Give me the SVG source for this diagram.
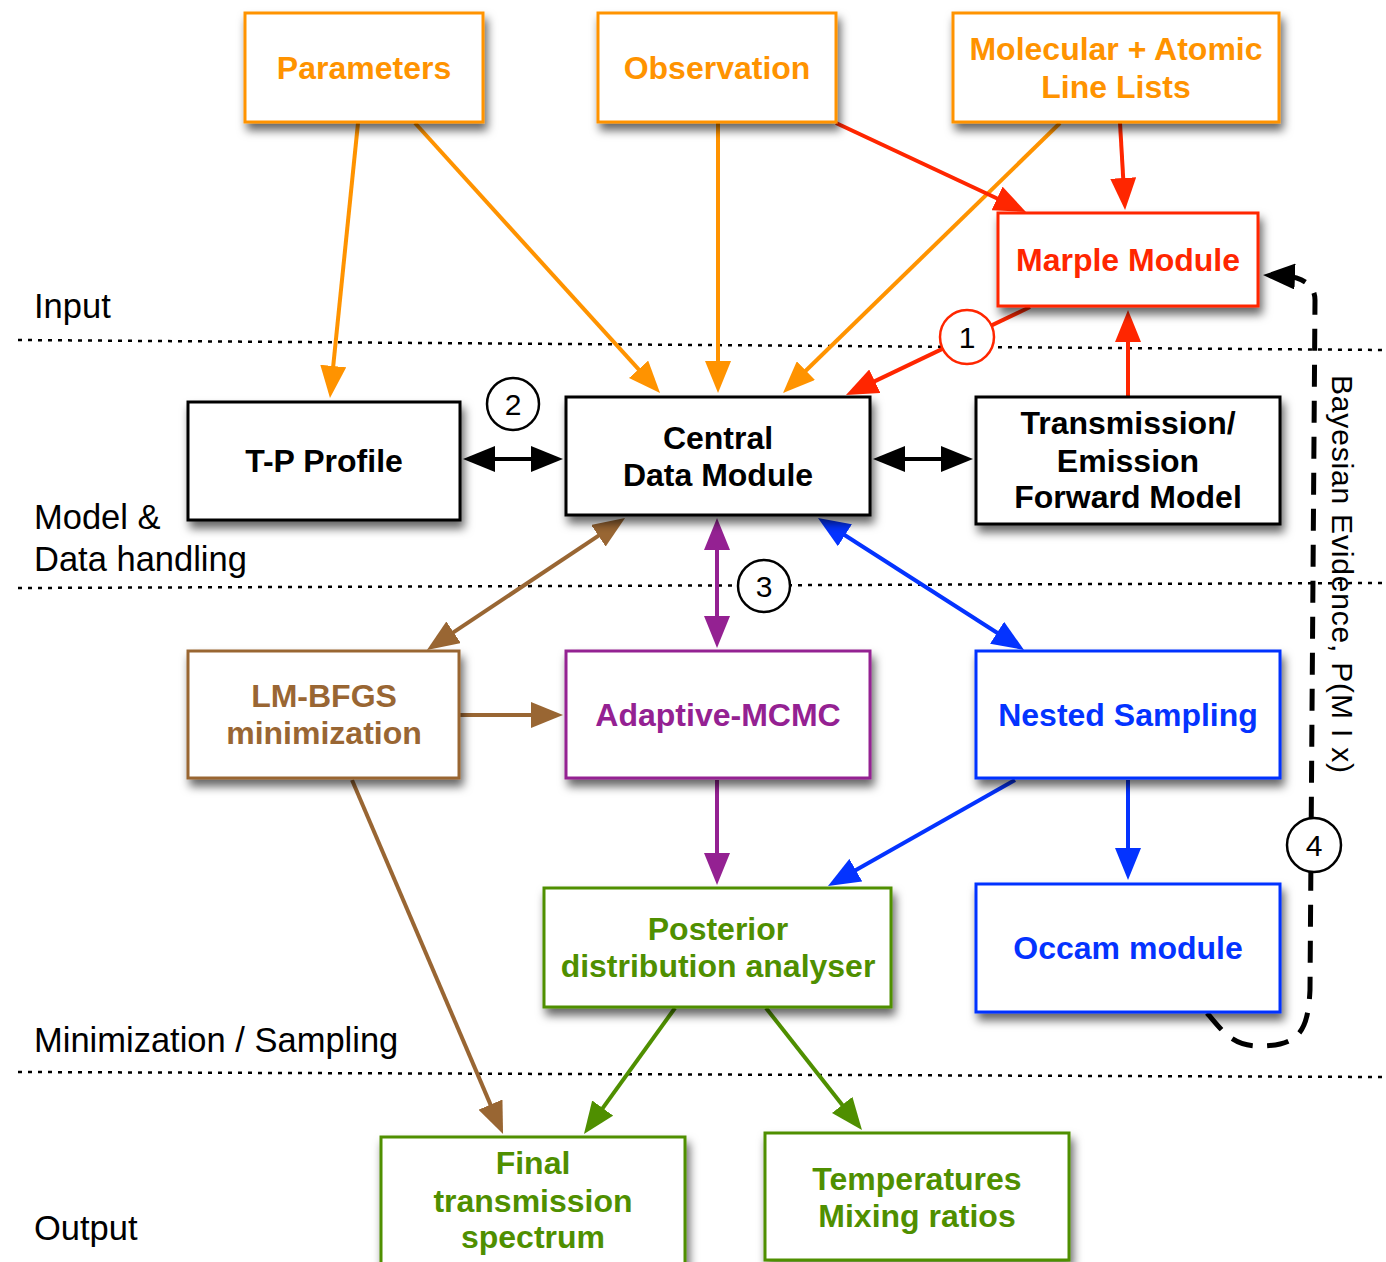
<svg xmlns="http://www.w3.org/2000/svg" width="1386" height="1262" viewBox="0 0 1386 1262">
<style>
text{font-family:"Liberation Sans",Arial,Helvetica,sans-serif}
.n{font-weight:bold;font-size:32px;text-anchor:middle}
.lab{font-size:34.5px;fill:#000}
.box{fill:#fff;stroke-width:3;filter:url(#sh)}
.c{fill:none;stroke-width:4}
.dot{fill:none;stroke:#000;stroke-width:2.5;stroke-dasharray:4 6}
.num{font-size:30px;text-anchor:middle;fill:#000}
.circ{fill:#fff;stroke-width:2.5}
</style>
<defs>
<filter id="sh" x="-20%" y="-20%" width="150%" height="160%">
<feDropShadow dx="3" dy="7" stdDeviation="5" flood-color="#000" flood-opacity="0.6"/>
</filter>
<marker id="aO" viewBox="0 0 32 26" refX="12" refY="13" markerWidth="32" markerHeight="26" markerUnits="userSpaceOnUse" orient="auto-start-reverse"><path d="M0,0 L32,13 L0,26 z" fill="#FF9300"/></marker>
<marker id="aR" viewBox="0 0 32 26" refX="12" refY="13" markerWidth="32" markerHeight="26" markerUnits="userSpaceOnUse" orient="auto-start-reverse"><path d="M0,0 L32,13 L0,26 z" fill="#FF2600"/></marker>
<marker id="aK" viewBox="0 0 32 26" refX="12" refY="13" markerWidth="32" markerHeight="26" markerUnits="userSpaceOnUse" orient="auto-start-reverse"><path d="M0,0 L32,13 L0,26 z" fill="#000"/></marker>
<marker id="aBr" viewBox="0 0 32 26" refX="12" refY="13" markerWidth="32" markerHeight="26" markerUnits="userSpaceOnUse" orient="auto-start-reverse"><path d="M0,0 L32,13 L0,26 z" fill="#996633"/></marker>
<marker id="aP" viewBox="0 0 32 26" refX="12" refY="13" markerWidth="32" markerHeight="26" markerUnits="userSpaceOnUse" orient="auto-start-reverse"><path d="M0,0 L32,13 L0,26 z" fill="#942192"/></marker>
<marker id="aB" viewBox="0 0 32 26" refX="12" refY="13" markerWidth="32" markerHeight="26" markerUnits="userSpaceOnUse" orient="auto-start-reverse"><path d="M0,0 L32,13 L0,26 z" fill="#0433FF"/></marker>
<marker id="aG" viewBox="0 0 32 26" refX="12" refY="13" markerWidth="32" markerHeight="26" markerUnits="userSpaceOnUse" orient="auto-start-reverse"><path d="M0,0 L32,13 L0,26 z" fill="#4F8F00"/></marker>
</defs>
<rect width="1386" height="1262" fill="#fff"/>

<g id="bands">
<line class="dot" x1="18" y1="340" x2="1386" y2="350"/>
<line class="dot" x1="18" y1="588" x2="1386" y2="583"/>
<line class="dot" x1="18" y1="1072" x2="1386" y2="1077"/>
<text class="lab" x="34" y="318">Input</text>
<text class="lab" x="34" y="529">Model &amp;</text>
<text class="lab" x="34" y="571">Data handling</text>
<text class="lab" x="34" y="1052">Minimization / Sampling</text>
<text class="lab" x="34" y="1240">Output</text>
</g>

<g id="connectors">
<line class="c" stroke="#FF9300" x1="358" y1="123" x2="332" y2="378" marker-end="url(#aO)"/>
<line class="c" stroke="#FF9300" x1="415" y1="123" x2="646.6" y2="378.2" marker-end="url(#aO)"/>
<line class="c" stroke="#FF9300" x1="718" y1="123" x2="718" y2="373" marker-end="url(#aO)"/>
<line class="c" stroke="#FF9300" x1="1060" y1="123" x2="797.3" y2="379" marker-end="url(#aO)"/>
<line class="c" stroke="#FF2600" x1="836" y1="123" x2="1007.9" y2="203.5" marker-end="url(#aR)"/>
<line class="c" stroke="#FF2600" x1="1120" y1="123" x2="1123.9" y2="190" marker-end="url(#aR)"/>
<line class="c" stroke="#FF2600" x1="1030" y1="307" x2="864" y2="386.4" marker-end="url(#aR)"/>
<line class="c" stroke="#FF2600" x1="1128" y1="397" x2="1128" y2="330" marker-end="url(#aR)"/>
<line class="c" stroke="#000" x1="483" y1="459" x2="543" y2="459" marker-start="url(#aK)" marker-end="url(#aK)"/>
<line class="c" stroke="#000" x1="893" y1="459" x2="953" y2="459" marker-start="url(#aK)" marker-end="url(#aK)"/>
<line class="c" stroke="#996633" x1="608.4" y1="529.1" x2="443.6" y2="638.9" marker-start="url(#aBr)" marker-end="url(#aBr)"/>
<line class="c" stroke="#942192" x1="717" y1="538" x2="717" y2="628" marker-start="url(#aP)" marker-end="url(#aP)"/>
<line class="c" stroke="#0433FF" x1="834.8" y1="528.8" x2="1007.2" y2="639.2" marker-start="url(#aB)" marker-end="url(#aB)"/>
<line class="c" stroke="#996633" x1="460" y1="715" x2="543" y2="715" marker-end="url(#aBr)"/>
<line class="c" stroke="#942192" x1="717" y1="780" x2="717" y2="865" marker-end="url(#aP)"/>
<line class="c" stroke="#0433FF" x1="1015" y1="780" x2="845.4" y2="876.1" marker-end="url(#aB)"/>
<line class="c" stroke="#0433FF" x1="1128" y1="780" x2="1128" y2="860" marker-end="url(#aB)"/>
<line class="c" stroke="#996633" x1="352" y1="780" x2="495.2" y2="1115.6" marker-end="url(#aBr)"/>
<line class="c" stroke="#4F8F00" x1="675" y1="1008" x2="595.7" y2="1117.8" marker-end="url(#aG)"/>
<line class="c" stroke="#4F8F00" x1="766" y1="1008" x2="849.6" y2="1114.3" marker-end="url(#aG)"/>
<path fill="none" stroke="#000" stroke-width="5" stroke-dasharray="22 14" d="M1207,1013 C1222,1030 1232,1047 1262,1046 C1300,1045 1308,1030 1310,990 L1315,300 C1315,287 1305,277 1283,276" marker-end="url(#aK)"/>
<circle class="circ" stroke="#FF2600" cx="967" cy="337" r="27"/>
<text class="num" x="967" y="348">1</text>
<circle class="circ" stroke="#000" cx="513" cy="404" r="26"/>
<text class="num" x="513" y="415">2</text>
<circle class="circ" stroke="#000" cx="764" cy="586" r="26"/>
<text class="num" x="764" y="597">3</text>
<circle class="circ" stroke="#000" cx="1314" cy="845" r="27"/>
<text class="num" x="1314" y="856">4</text>
<text font-size="30" transform="translate(1332,375) rotate(90)" textLength="398" lengthAdjust="spacing">Bayesian Evidence, P(M I x)</text>
</g>

<g id="parameters"><rect class="box" stroke="#FF9300" x="245" y="13" width="238" height="109"/><text class="n" fill="#FF9300" x="364" y="79">Parameters</text></g>
<g id="observation"><rect class="box" stroke="#FF9300" x="598" y="13" width="238" height="109"/><text class="n" fill="#FF9300" x="717" y="79">Observation</text></g>
<g id="linelists"><rect class="box" stroke="#FF9300" x="953" y="13" width="326" height="109"/><text class="n" fill="#FF9300" x="1116" y="60">Molecular + Atomic</text><text class="n" fill="#FF9300" x="1116" y="98">Line Lists</text></g>
<g id="marple"><rect class="box" stroke="#FF2600" x="998" y="213" width="260" height="93"/><text class="n" fill="#FF2600" x="1128" y="271">Marple Module</text></g>
<g id="tpprofile"><rect class="box" stroke="#000" x="188" y="402" width="272" height="118"/><text class="n" fill="#000" x="324" y="472">T-P Profile</text></g>
<g id="central"><rect class="box" stroke="#000" x="566" y="397" width="304" height="118"/><text class="n" fill="#000" x="718" y="449">Central</text><text class="n" fill="#000" x="718" y="486">Data Module</text></g>
<g id="forward"><rect class="box" stroke="#000" x="976" y="397" width="304" height="127"/><text class="n" fill="#000" x="1128" y="434">Transmission/</text><text class="n" fill="#000" x="1128" y="472">Emission</text><text class="n" fill="#000" x="1128" y="508">Forward Model</text></g>
<g id="lmbfgs"><rect class="box" stroke="#996633" x="188" y="651" width="271" height="127"/><text class="n" fill="#996633" x="324" y="707">LM-BFGS</text><text class="n" fill="#996633" x="324" y="744">minimization</text></g>
<g id="mcmc"><rect class="box" stroke="#942192" x="566" y="651" width="304" height="127"/><text class="n" fill="#942192" x="718" y="726">Adaptive-MCMC</text></g>
<g id="nested"><rect class="box" stroke="#0433FF" x="976" y="651" width="304" height="127"/><text class="n" fill="#0433FF" x="1128" y="726">Nested Sampling</text></g>
<g id="posterior"><rect class="box" stroke="#4F8F00" x="544" y="888" width="347" height="119"/><text class="n" fill="#4F8F00" x="718" y="940">Posterior</text><text class="n" fill="#4F8F00" x="718" y="977">distribution analyser</text></g>
<g id="occam"><rect class="box" stroke="#0433FF" x="976" y="884" width="304" height="128"/><text class="n" fill="#0433FF" x="1128" y="959">Occam module</text></g>
<g id="final"><rect class="box" stroke="#4F8F00" x="381" y="1137" width="304" height="140"/><text class="n" fill="#4F8F00" x="533" y="1174">Final</text><text class="n" fill="#4F8F00" x="533" y="1212">transmission</text><text class="n" fill="#4F8F00" x="533" y="1248">spectrum</text></g>
<g id="temperatures"><rect class="box" stroke="#4F8F00" x="765" y="1133" width="304" height="127"/><text class="n" fill="#4F8F00" x="917" y="1190">Temperatures</text><text class="n" fill="#4F8F00" x="917" y="1227">Mixing ratios</text></g>
</svg>
